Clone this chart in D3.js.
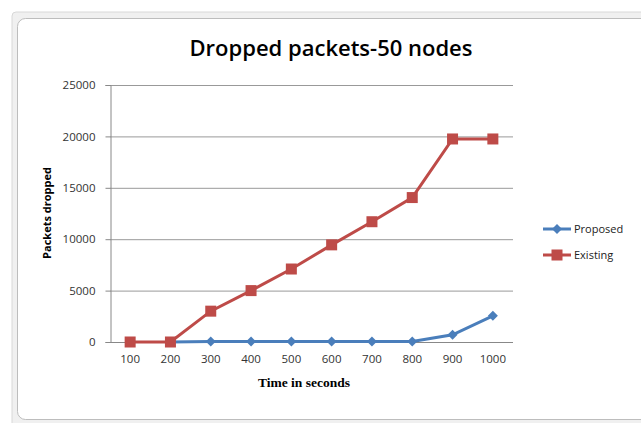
<!DOCTYPE html>
<html><head><meta charset="utf-8">
<script src="https://cdn.jsdelivr.net/npm/d3@7"></script>
<style>body{margin:0;background:#fff}svg{display:block}</style>
</head><body>
<script>
const categories = ["100","200","300","400","500","600","700","800","900","1000"];
const proposed = [0, 0, 50, 50, 50, 50, 50, 50, 700, 2550];
const existing = [0, 0, 3000, 5000, 7100, 9450, 11700, 14050, 19750, 19750];
const yTicks = [0, 5000, 10000, 15000, 20000, 25000];
const seriesNames = ["Proposed", "Existing"];

const W = 641, H = 423;
const svg = d3.select("body").append("svg").attr("width", W).attr("height", H);

// frame
svg.append("rect").attr("x", 12).attr("y", 12).attr("width", 640).attr("height", 420)
  .attr("rx", 4).attr("fill", "#f0f0f0").attr("stroke", "#d8d8d8");
svg.append("rect").attr("x", 17.5).attr("y", 18.5).attr("width", 640).attr("height", 401)
  .attr("rx", 8).attr("fill", "#fff").attr("stroke", "#bdbdbd");

const m = {l: 110, r: 513, t: 85, b: 342};
const x = d3.scaleBand().domain(categories).range([m.l, m.r]);
const y = d3.scaleLinear().domain([0, 25000]).range([m.b, m.t]);

// gridlines
svg.append("g").selectAll("line").data(yTicks.slice(1)).join("line")
  .attr("x1", m.l).attr("x2", m.r).attr("y1", d => y(d) + 0.5).attr("y2", d => y(d) + 0.5)
  .attr("stroke", "#999").attr("stroke-width", 1);

// axes
const yAxis = svg.append("g").attr("transform", `translate(${m.l + 0.5},0)`)
  .call(d3.axisLeft(y).tickValues(yTicks).tickSize(5).tickFormat(d3.format("d")));
const xAxis = svg.append("g").attr("transform", `translate(0,${m.b + 0.5})`)
  .call(d3.axisBottom(x).tickSize(0).tickPadding(12));
[yAxis, xAxis].forEach(a => {
  a.select(".domain").attr("stroke", "#888");
  a.selectAll(".tick line").attr("stroke", "#888");
  a.selectAll("text").attr("font-family", "Open Sans, DejaVu Sans, sans-serif")
    .attr("font-size", 11.5).attr("fill", "#333");
});
yAxis.selectAll(".tick line").attr("x1", -5).attr("x2", 0);
yAxis.selectAll("text").attr("x", -15);
xAxis.select(".domain").attr("d", `M${m.l},0H${m.r}`);

const cx = d => x(d) + x.bandwidth() / 2;
const line = d3.line().x(d => cx(d.c)).y(d => y(d.v));
const pData = categories.map((c, i) => ({c, v: proposed[i]}));
const eData = categories.map((c, i) => ({c, v: existing[i]}));
const blue = "#4a7ebb", red = "#be4b48";

svg.append("path").datum(pData.slice(1)).attr("d", line).attr("fill", "none")
  .attr("stroke", blue).attr("stroke-width", 3);
const diamond = d3.symbol().type(d3.symbolSquare).size(50);
svg.append("g").selectAll("path").data(pData.slice(1)).join("path")
  .attr("d", diamond).attr("transform", d => `translate(${cx(d.c)},${y(d.v)}) rotate(45)`).attr("fill", blue);

svg.append("path").datum(eData).attr("d", line).attr("fill", "none")
  .attr("stroke", red).attr("stroke-width", 3);
svg.append("g").selectAll("rect").data(eData).join("rect")
  .attr("x", d => cx(d.c) - 5.5).attr("y", d => y(d.v) - 5.5).attr("width", 11).attr("height", 11)
  .attr("fill", red);

// title & labels
svg.append("text").attr("x", 331).attr("y", 56).attr("text-anchor", "middle")
  .attr("font-family", "Open Sans, Noto Sans, sans-serif").attr("font-weight", "600")
  .attr("font-size", 22).attr("fill", "#000").text("Dropped packets-50 nodes");
svg.append("text").attr("transform", "translate(51,213) rotate(-90)").attr("text-anchor", "middle")
  .attr("font-family", "Open Sans, DejaVu Sans, sans-serif").attr("font-weight", "bold")
  .attr("font-size", 11).attr("fill", "#000").text("Packets dropped");
svg.append("text").attr("x", 304).attr("y", 387).attr("text-anchor", "middle")
  .attr("font-family", "Liberation Serif, serif").attr("font-weight", "bold")
  .attr("font-size", 13.5).attr("fill", "#000").text("Time in seconds");

// legend
const lg = svg.append("g");
[[blue, "d"], [red, "s"]].forEach(([col, sh], i) => {
  const ly = 229 + i * 26;
  lg.append("line").attr("x1", 543).attr("x2", 571).attr("y1", ly).attr("y2", ly)
    .attr("stroke", col).attr("stroke-width", 3);
  if (sh === "d") lg.append("path").attr("d", diamond).attr("transform", `translate(557,${ly}) rotate(45)`).attr("fill", col);
  else lg.append("rect").attr("x", 551.5).attr("y", ly - 5.5).attr("width", 11).attr("height", 11).attr("fill", col);
  lg.append("text").attr("x", 574).attr("y", ly + 4).attr("font-family", "Open Sans, DejaVu Sans, sans-serif")
    .attr("font-size", 11).attr("fill", "#222").text(seriesNames[i]);
});
</script>
</body></html>
